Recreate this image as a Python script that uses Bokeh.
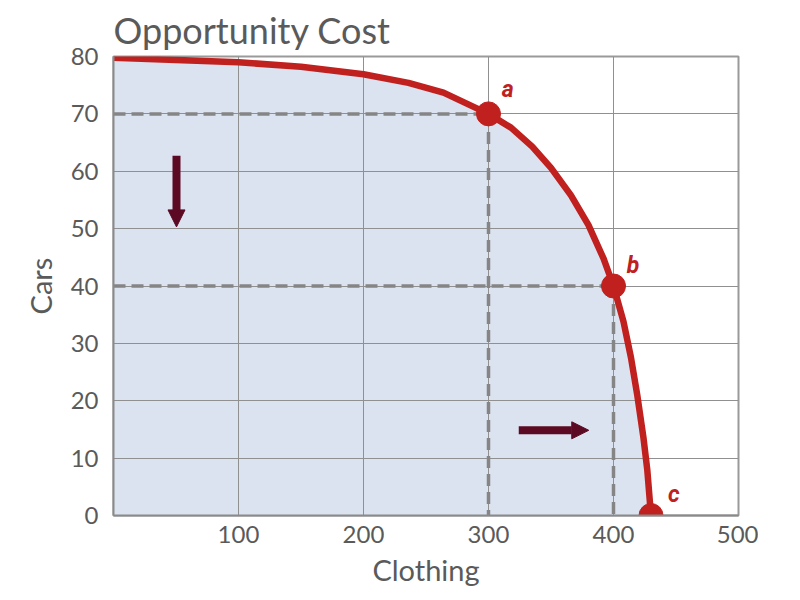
from bokeh.plotting import figure
from bokeh.models import Range1d, FixedTicker, Arrow, NormalHead, ColumnDataSource, LabelSet
from bokeh.core.properties import value
from bokeh.embed import file_html
from bokeh.resources import INLINE

# PPF curve
curve_x = [0, 100, 150, 200, 236, 264, 300, 318, 335, 350, 366, 380, 392, 400, 408, 414, 419, 424, 427, 430]
curve_y = [79.8, 79.0, 78.2, 76.9, 75.4, 73.7, 70, 67.6, 64.3, 60.6, 55.8, 50.6, 44.8, 40, 33.8, 27.5, 21, 13.5, 8, 0]

# labelled points
pt_x = [300, 400, 430]
pt_y = [70, 40, 0]
pt_lab = ["a", "b", "c"]
lab_x = [310.5, 410.5, 443.5]
lab_y = [73.0, 42.3, 2.3]

x_ticks = [100, 200, 300, 400, 500]
y_ticks = [0, 10, 20, 30, 40, 50, 60, 70, 80]

FONT = "Lato"
GRAY = "#5a5a5a"

p = figure(width=758, height=592, output_backend="svg", toolbar_location=None,
           x_range=Range1d(0, 500), y_range=Range1d(0, 80),
           title="Opportunity Cost")
p.min_border_left = 113
p.min_border_right = 20
p.min_border_bottom = 77
p.min_border_top = 5

p.title.text_font = FONT
p.title.text_font_size = "36px"
p.title.text_font_style = "normal"
p.title.text_color = GRAY
p.title.align = "left"

p.xaxis.ticker = FixedTicker(ticks=x_ticks)
p.yaxis.ticker = FixedTicker(ticks=y_ticks)
for ax in (p.xaxis, p.yaxis):
    ax.major_label_text_font = FONT
    ax.major_label_text_font_size = "24px"
    ax.major_label_text_color = GRAY
    ax.axis_label_text_font = FONT
    ax.axis_label_text_font_size = "29px"
    ax.axis_label_text_font_style = "normal"
    ax.axis_label_text_color = GRAY
    ax.major_tick_line_color = None
    ax.minor_tick_line_color = None
    ax.axis_line_color = "#8a8a8a"
    ax.axis_line_width = 2
p.xaxis.axis_label = "Clothing"
p.yaxis.axis_label = "Cars"
p.xaxis.major_label_standoff = 4
p.yaxis.major_label_standoff = 9
p.xaxis.axis_label_standoff = 6
p.yaxis.axis_label_standoff = 10

p.grid.grid_line_color = "#909090"
p.grid.grid_line_width = 1
p.outline_line_color = "#9a9a9a"
p.outline_line_width = 2

src = ColumnDataSource(dict(x=curve_x, y=curve_y, z=[0] * len(curve_x)))
area = p.varea(x="x", y1="z", y2="y", source=src, fill_color="#dbe2f0")
area.level = "image"

# dashed guide lines
for (x0, y0) in zip(pt_x[:2], pt_y[:2]):
    p.line([0, x0], [y0, y0], line_color="#858585", line_width=3.5, line_dash="12 6")
    p.line([x0, x0], [y0, 0], line_color="#858585", line_width=3.5, line_dash="12 6")

p.line(curve_x, curve_y, line_color="#c0201e", line_width=6.5, line_join="round")
p.scatter(pt_x, pt_y, size=24, fill_color="#c0201e", line_color="#c0201e")

lsrc = ColumnDataSource(dict(x=lab_x, y=lab_y, t=pt_lab))
p.add_layout(LabelSet(x="x", y="y", text="t", source=lsrc, text_color="#c0201e",
                      text_font=value("Roboto"), text_font_style="bold italic",
                      text_font_size="23px", text_baseline="alphabetic"))

ARROW = "#5c0a24"
p.add_layout(Arrow(x_start=50.4, y_start=62.7, x_end=50.4, y_end=50.3,
                   line_color=ARROW, line_width=8,
                   end=NormalHead(size=17, fill_color=ARROW, line_color=ARROW)))
p.add_layout(Arrow(x_start=324.2, y_start=14.85, x_end=380.2, y_end=14.85,
                   line_color=ARROW, line_width=8,
                   end=NormalHead(size=17, fill_color=ARROW, line_color=ARROW)))

open("out.html", "w").write(file_html(p, INLINE))
